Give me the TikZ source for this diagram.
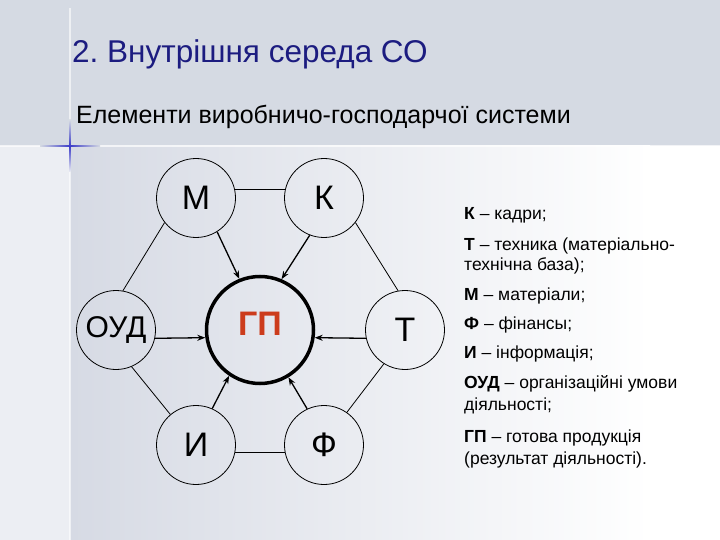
\documentclass[tikz,border=0pt]{standalone}
\usepackage{fontspec}
\setmainfont{Liberation Sans}
\usetikzlibrary{arrows.meta}
\frenchspacing
\definecolor{topbg}{RGB}{213,218,227}
\definecolor{lowbg}{RGB}{214,218,228}
\definecolor{stripbg}{RGB}{236,238,243}
\definecolor{navy}{RGB}{28,28,128}
\definecolor{gpred}{RGB}{204,60,28}
\definecolor{crossblue}{RGB}{60,60,200}
\begin{document}
\begin{tikzpicture}[x=1pt,y=-1pt,
  circ/.style={circle,draw=black,line width=0.8pt,minimum size=79pt,inner sep=0pt,
    font=\fontsize{34}{34}\selectfont},
  gpcirc/.style={circle,draw=black,line width=3.5pt,minimum size=107pt,inner sep=0pt},
  link/.style={draw=black,line width=0.8pt},
  flow/.style={draw=black,line width=1.3pt,-{Stealth[length=8pt,width=6pt]}},
  legend/.style={anchor=base west,inner sep=0pt,font=\fontsize{17.5}{17.5}\selectfont}]
\useasboundingbox (0,0) rectangle (720,540);
% background
\fill[topbg] (0,0) rectangle (720,146);
\fill[stripbg] (0,146) rectangle (70,540);
\shade[left color=lowbg,right color=white] (70,146) rectangle (650,540);
\fill[white] (650,146) rectangle (720,540);
\draw[white,opacity=0.7,line width=1.5pt] (0,146) -- (720,146);
\draw[white,opacity=0.6,line width=1.5pt] (70,8) -- (70,540);
\shade[left color=topbg,right color=topbg,middle color=crossblue] (40,145.2) rectangle (100,146.8);
\shade[top color=topbg,bottom color=stripbg,middle color=crossblue] (69.2,120) rectangle (70.8,172);
% title
\node[anchor=base west,inner sep=0pt,text=navy,font=\fontsize{31.5}{31.5}\selectfont] (title) at (72,63) {2. Внутрішня середа СО};
\node[anchor=base west,inner sep=0pt,font=\fontsize{25}{25}\selectfont] (subtitle) at (76,124) {Елементи виробничо-господарчої системи};
% circles
\node[circ] (M) at (196,198) {М};
\node[circ] (K) at (324,198) {К};
\node[circ,font=\fontsize{30}{30}\selectfont] (OUD) at (116,330) {ОУД};
\node[circ] (T) at (405,330) {Т};
\node[circ] (I) at (196,445) {И};
\node[circ] (F) at (324,445) {Ф};
\node[gpcirc,label={[inner sep=0pt,yshift=6pt,text=gpred,font=\bfseries\fontsize{34}{34}\selectfont]center:ГП}] (GP) at (260,330) {};
% links
\draw[link] (M.13) -- (K.167);
\draw[link] (M.218) -- (OUD.80);
\draw[link] (K.-38) -- (T.100);
\draw[link] (OUD.-67) -- (I.130);
\draw[link] (T.238) -- (F.55);
\draw[link] (I.-11) -- (F.191);
% flows
\draw[flow] (M.-58) -- (GP.112);
\draw[flow] (K.249) -- (GP.67);
\draw[flow] (OUD.-12) -- (GP.188);
\draw[flow] (T.192) -- (GP.-8);
\draw[flow] (I.66) -- (GP.236);
\draw[flow] (F.115) -- (GP.-59);
% legend
\node[legend] (l1) at (464,220) {\textbf{К} – кадри;};
\node[legend] (l2) at (464,250) {\textbf{Т} – техника (матеріально-};
\node[legend] (l3) at (464,270) {технічна база);};
\node[legend] (l4) at (464,300) {\textbf{М} – матеріали;};
\node[legend] (l5) at (464,329) {\textbf{Ф} – фінансы;};
\node[legend] (l6) at (464,358) {\textbf{И} – інформація;};
\node[legend] (l7) at (464,388) {\textbf{ОУД} – організаційні умови};
\node[legend] (l8) at (464,410) {діяльності;};
\node[legend] (l9) at (464,442) {\textbf{ГП} – готова продукція};
\node[legend] (l10) at (464,464) {(результат діяльності).};
\end{tikzpicture}
\end{document}
